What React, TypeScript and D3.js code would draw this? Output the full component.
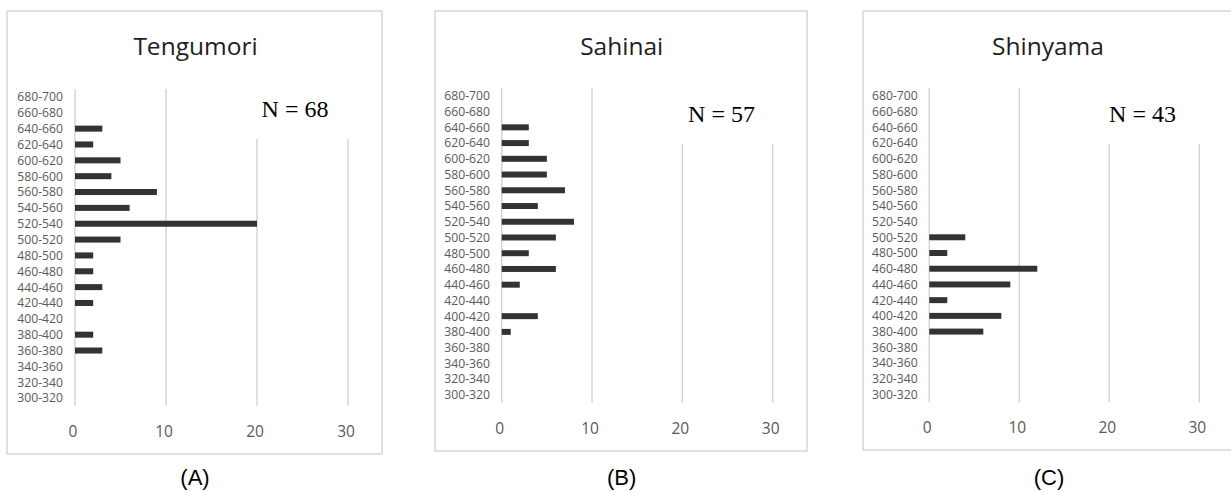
import React from "react";
import * as d3 from "d3";

const categories = [
  "680-700", "660-680", "640-660", "620-640", "600-620", "580-600", "560-580",
  "540-560", "520-540", "500-520", "480-500", "460-480", "440-460", "420-440",
  "400-420", "380-400", "360-380", "340-360", "320-340", "300-320",
];
const tengumoriCounts = [0, 0, 3, 2, 5, 4, 9, 6, 20, 5, 2, 2, 3, 2, 0, 2, 3, 0, 0, 0];
const sahinaiCounts = [0, 0, 3, 3, 5, 5, 7, 4, 8, 6, 3, 6, 2, 0, 4, 1, 0, 0, 0, 0];
const shinyamaCounts = [0, 0, 0, 0, 0, 0, 0, 0, 0, 4, 2, 12, 9, 2, 8, 6, 0, 0, 0, 0];
const xTicks = [0, 10, 20, 30];
const siteNames = ["Tengumori", "Sahinai", "Shinyama"];
const sampleSizes = [68, 57, 43];
const panelLetters = ["(A)", "(B)", "(C)"];

type Layout = {
  boxL: number; boxR: number; boxT: number; boxB: number;
  x0: number; x30: number; plotT: number; plotB: number;
  labelR: number; titleX: number; titleY: number; tickY: number;
  nX: number; nY: number; maskB: number; letterX: number; letterY: number;
};

const layouts: Layout[] = [
  { boxL: 7, boxR: 382, boxT: 11, boxB: 454, x0: 75, x30: 348, plotT: 89, plotB: 406,
    labelR: 63, titleX: 195.5, titleY: 55, tickY: 437, nX: 295, nY: 117, maskB: 139,
    letterX: 195, letterY: 485 },
  { boxL: 435, boxR: 807, boxT: 11, boxB: 451, x0: 501.7, x30: 772.7, plotT: 88, plotB: 402.7,
    labelR: 490, titleX: 621.7, titleY: 54.5, tickY: 433.5, nX: 721.5, nY: 122, maskB: 144,
    letterX: 621.7, letterY: 485 },
  { boxL: 863, boxR: 1236, boxT: 11, boxB: 450, x0: 929.3, x30: 1199.3, plotT: 88, plotB: 402.3,
    labelR: 917.7, titleX: 1048, titleY: 54.5, tickY: 432.5, nX: 1142.5, nY: 122, maskB: 144,
    letterX: 1049, letterY: 485 },
];

const allCounts = [tengumoriCounts, sahinaiCounts, shinyamaCounts];

function Panel({ idx }: { idx: number }) {
  const L = layouts[idx];
  const counts = allCounts[idx];
  const x = d3.scaleLinear().domain([0, 30]).range([L.x0, L.x30]);
  const p = 0.62;
  const y = d3.scaleBand<string>().domain(categories).range([L.plotT, L.plotB])
    .paddingInner(p).paddingOuter(p / 2);
  const sans = "'Open Sans', 'Noto Sans', sans-serif";
  return (
    <g>
      <rect x={L.boxL} y={L.boxT} width={L.boxR - L.boxL} height={L.boxB - L.boxT}
        fill="#fff" stroke="#d6d6d6" strokeWidth={1.5} />
      <text x={L.titleX} y={L.titleY} textAnchor="middle" fontFamily={sans}
        fontSize={24.5} fill="#1e1e1e">{siteNames[idx]}</text>
      {xTicks.map((t) => (
        <line key={"g" + t} x1={x(t)} x2={x(t)} y1={L.plotT} y2={L.plotB}
          stroke="#cfcfcf" strokeWidth={1.3} />
      ))}
      <rect x={x(15)} y={L.plotT - 1} width={x(31) - x(15)} height={L.maskB - L.plotT + 1} fill="#fff" />
      <text x={L.nX} y={L.nY} textAnchor="middle"
        fontFamily="'Liberation Serif', 'Times New Roman', serif" fontSize={24} fill="#000">
        {"N = " + sampleSizes[idx]}
      </text>
      {categories.map((c, i) => (
        <g key={c}>
          <text x={L.labelR} y={(y(c) as number) + y.bandwidth() / 2} dy="0.36em"
            textAnchor="end" fontFamily={sans} fontSize={12.2} fill="#595959">{c}</text>
          {counts[i] > 0 && (
            <rect x={x(0)} y={y(c) as number} width={x(counts[i]) - x(0)}
              height={y.bandwidth()} fill="#333333" />
          )}
        </g>
      ))}
      {xTicks.map((t) => (
        <text key={"t" + t} x={x(t) - 2} y={L.tickY} textAnchor="middle" fontFamily={sans}
          fontSize={15.5} fill="#595959">{t}</text>
      ))}
      <text x={L.letterX} y={L.letterY} textAnchor="middle"
        fontFamily="'Liberation Sans', Arial, sans-serif" fontSize={22} fill="#000">
        {panelLetters[idx]}
      </text>
    </g>
  );
}

export default function App() {
  return (
    <svg width={1231} height={492} style={{ position: "absolute", left: 0, top: 0 }}>
      <rect x={0} y={0} width={1231} height={492} fill="#fff" />
      {[0, 1, 2].map((i) => (
        <Panel key={i} idx={i} />
      ))}
    </svg>
  );
}
